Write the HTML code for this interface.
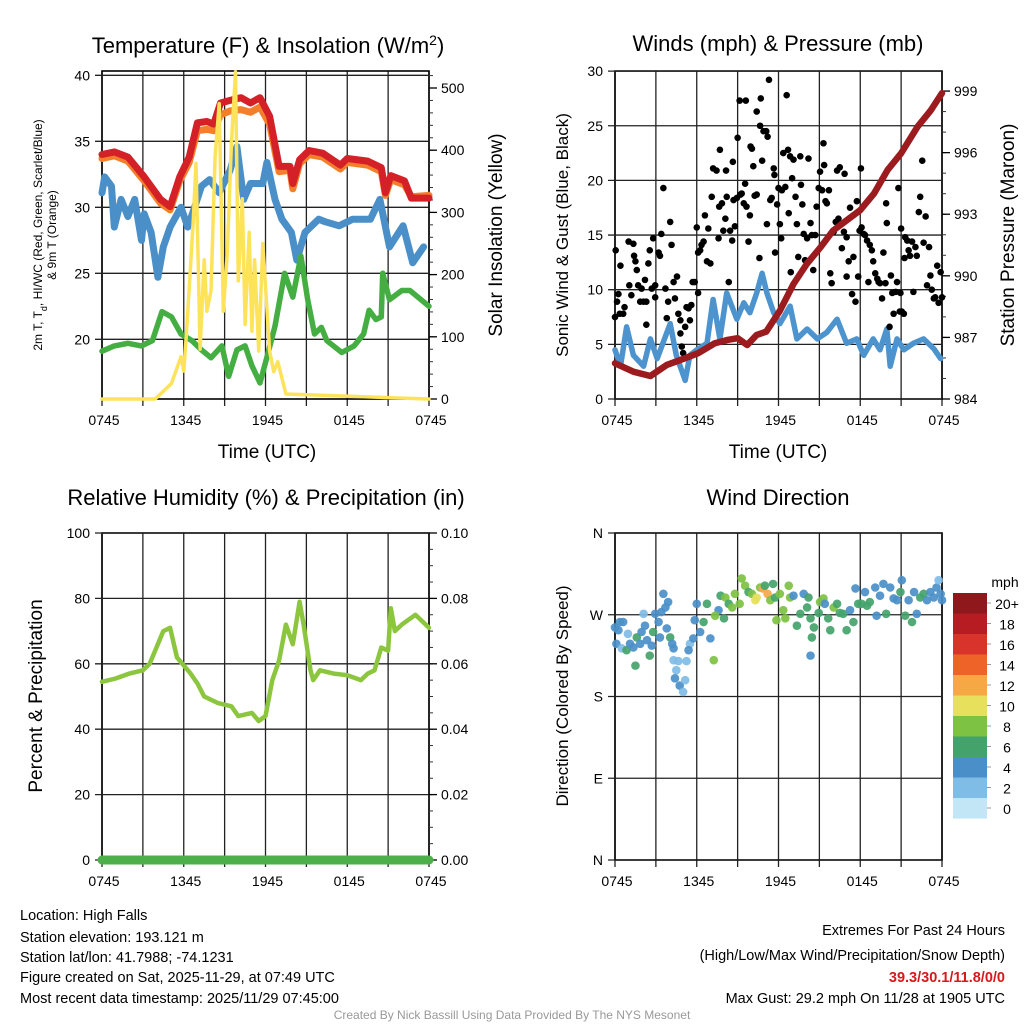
<!DOCTYPE html>
<html><head><meta charset="utf-8"><style>
html,body{margin:0;padding:0;background:#fff}
svg{display:block;font-family:"Liberation Sans",sans-serif}
</style></head><body>
<svg id="s" width="1024" height="1024" viewBox="0 0 1024 1024" xmlns="http://www.w3.org/2000/svg">
<g id="g1"></g>
<g id="g2"></g>
<g id="g3"></g>
<g id="g4"></g>
<g font-size="22" text-anchor="middle">
<text x="268" y="53">Temperature (F) &amp; Insolation (W/m<tspan baseline-shift="super" font-size="14">2</tspan>)</text>
<text x="778" y="51">Winds (mph) &amp; Pressure (mb)</text>
<text x="266" y="505">Relative Humidity (%) &amp; Precipitation (in)</text>
<text x="778" y="505">Wind Direction</text>
</g>
<g text-anchor="middle">
<text x="267" y="458" font-size="19">Time (UTC)</text>
<text x="778" y="458" font-size="19">Time (UTC)</text>
<text transform="translate(42,235) rotate(-90)" font-size="12">2m T, T<tspan baseline-shift="sub" font-size="9">d</tspan>, HI/WC (Red, Green, Scarlet/Blue)</text>
<text transform="translate(56,235) rotate(-90)" font-size="12">&amp; 9m T (Orange)</text>
<text transform="translate(502,235) rotate(-90)" font-size="19">Solar Insolation (Yellow)</text>
<text transform="translate(568,235) rotate(-90)" font-size="17">Sonic Wind &amp; Gust (Blue, Black)</text>
<text transform="translate(1014,235) rotate(-90)" font-size="19">Station Pressure (Maroon)</text>
<text transform="translate(42,696) rotate(-90)" font-size="19">Percent &amp; Precipitation</text>
<text transform="translate(568,696) rotate(-90)" font-size="17">Direction (Colored By Speed)</text>
</g>
<g font-size="14.5">
<text x="20" y="920">Location: High Falls</text>
<text x="20" y="942">Station elevation: 193.121 m</text>
<text x="20" y="962">Station lat/lon: 41.7988; -74.1231</text>
<text x="20" y="982">Figure created on Sat, 2025-11-29, at 07:49 UTC</text>
<text x="20" y="1003">Most recent data timestamp: 2025/11/29 07:45:00</text>
<text x="1005" y="935" text-anchor="end">Extremes For Past 24 Hours</text>
<text x="1005" y="960" text-anchor="end">(High/Low/Max Wind/Precipitation/Snow Depth)</text>
<text x="1005" y="982" text-anchor="end" fill="#d7191c" font-weight="bold">39.3/30.1/11.8/0/0</text>
<text x="1005" y="1003" text-anchor="end">Max Gust: 29.2 mph On 11/28 at 1905 UTC</text>
<text x="512" y="1019" text-anchor="middle" font-size="12" fill="#999">Created By Nick Bassill Using Data Provided By The NYS Mesonet</text>
</g>
</svg>
<script>
// ---- data ----
const xLabels=["0745","1345","1945","0145","0745"];
const redT=[0,0.9,1.9,3.1,4.3,5.0,5.7,6.4,7.0,7.7,8.2,8.7,9.4,10.2,10.9,11.6,12.3,13.0,13.8,14.0,14.5,15.2,16.2,17.5,18.0,19.5,20.5,20.8,21.2,22.2,22.7,24];
const redV=[34.0,34.2,33.8,32.3,30.6,30.05,32.3,33.8,36.4,36.5,36.3,37.9,38.1,38.3,37.9,38.3,36.9,33.1,33.1,31.8,33.6,34.3,34.1,33.2,33.7,33.5,33.0,31.1,32.4,32.0,30.7,30.7];
const orangeV=[33.7,33.9,33.5,32.0,30.3,29.8,32.0,33.4,35.8,35.9,35.8,37.0,37.3,37.4,37.2,37.6,36.3,32.7,32.8,31.4,33.3,34.0,33.8,32.9,33.4,33.2,32.7,30.9,32.1,31.7,30.8,30.9];
const blueT=[0,0.2,0.7,0.9,1.4,1.9,2.4,2.9,3.1,3.6,4.1,4.5,5.0,5.8,6.3,6.8,7.3,7.9,8.6,9.4,9.9,10.4,10.9,11.8,12.1,12.7,13.2,13.9,14.3,14.9,15.9,16.4,17.4,18.4,19.7,20.4,21.1,22.1,22.8,23.6];
const blueV=[31.1,32.3,31.6,28.5,30.6,29.3,30.6,27.5,29.5,28.1,24.7,27.0,28.5,30.0,28.5,30.0,31.6,32.1,31.1,32.8,34.6,30.6,31.8,31.8,33.4,30.6,29.1,28.1,26.0,28.1,29.1,28.9,28.6,29.1,29.1,30.6,27.0,28.6,25.8,27.0];
const greenT=[0,0.9,1.9,2.9,3.7,4.4,5.1,5.8,6.6,7.3,8.0,8.8,9.3,9.9,10.5,11.0,11.6,12.2,12.7,13.4,14.0,14.6,15.1,15.6,16.1,16.5,17.6,18.5,19.2,19.6,20.1,20.5,20.6,21.1,22.0,22.6,24];
const greenV=[19.1,19.5,19.7,19.5,19.9,22.1,21.7,20.4,19.9,19.2,18.6,19.5,17.2,19.2,19.5,18.0,16.7,19.0,21.0,25.0,23.2,26.3,23.0,20.4,20.9,19.9,19.0,19.5,20.4,22.2,21.5,21.7,25.0,23.0,23.7,23.7,22.5];
const solarT=[0,3.9,4.1,5.1,5.8,6.0,6.2,6.7,6.9,7.2,7.5,7.7,8.0,8.3,8.6,8.9,9.2,9.5,9.8,10.0,10.3,10.5,10.8,11.0,11.2,11.5,11.8,12.3,12.6,12.9,13.5,24];
const solarV=[0,0,4,25,68,45,106,288,379,80,224,141,174,390,475,141,234,411,526,190,322,120,268,109,224,77,250,77,44,60,8,0];
const presT=[0,1.35,2.6,3.8,5.1,6.1,7.3,8.2,9.0,9.7,10.4,11.1,12.1,13.1,14.1,15.1,16.0,17.0,18.0,19.0,20.0,21.0,22.2,23.2,24];
const presV=[985.74,985.33,985.12,985.66,985.98,986.23,986.71,986.87,986.96,986.63,987.12,987.28,988.3,989.6,990.6,991.4,992.2,992.7,993.2,994.0,995.15,995.97,997.26,998.08,998.9];
const windT=[0,0.4,0.85,1.35,2.1,2.6,3.1,4.05,4.5,5.15,5.5,6.0,6.75,7.2,7.7,8.2,8.95,9.45,9.9,10.4,10.8,11.15,11.65,12.1,12.85,13.35,14.1,14.85,15.55,16.3,17.0,17.75,18.25,18.95,19.45,19.95,20.2,20.7,21.2,21.9,22.65,23.4,23.9];
const windV=[4.5,3.0,6.6,4.0,3.0,5.5,3.7,6.9,4.0,1.7,4.0,4.5,5.1,9.1,5.5,9.7,7.3,8.8,7.9,9.7,11.5,9.7,7.9,6.9,8.5,5.5,6.4,5.5,6.1,7.3,5.1,5.5,4.0,5.5,4.5,6.4,3.0,5.5,4.5,5.1,5.5,4.6,3.7];
const gustT=[0,0.05,0.15,0.25,0.35,0.4,0.6,0.7,1.0,1.05,1.2,1.35,1.4,1.5,1.6,1.7,1.85,1.95,2.1,2.2,2.3,2.3,2.45,2.55,2.7,2.8,2.95,2.95,3.2,3.3,3.4,3.55,3.7,3.8,3.9,4.05,4.15,4.3,4.4,4.55,4.65,4.8,4.8,4.9,5.0,5.15,5.25,5.4,5.5,5.6,5.7,5.85,6.0,6.1,6.1,6.25,6.35,6.5,6.6,6.75,6.85,7.0,7.1,7.2,7.45,7.6,7.65,7.7,7.85,7.95,8.1,8.15,8.2,8.35,8.45,8.6,8.65,8.7,8.8,8.95,9.0,9.15,9.2,9.3,9.45,9.55,9.6,9.65,9.8,9.9,9.95,10.05,10.15,10.25,10.4,10.4,10.6,10.65,10.7,10.8,10.9,11.1,11.15,11.2,11.3,11.4,11.5,11.65,11.7,11.75,11.9,12.0,12.1,12.2,12.25,12.35,12.5,12.6,12.7,12.75,12.85,12.9,13.0,13.1,13.25,13.35,13.45,13.6,13.65,13.75,13.85,13.95,14.1,14.2,14.35,14.45,14.55,14.7,14.8,14.95,15.05,15.2,15.3,15.35,15.45,15.55,15.7,15.8,15.9,16.05,16.2,16.3,16.4,16.5,16.65,16.8,16.85,17.0,17.0,17.15,17.25,17.4,17.5,17.65,17.75,17.85,17.95,18.05,18.1,18.25,18.35,18.5,18.6,18.7,18.85,18.95,19.1,19.25,19.35,19.45,19.6,19.7,19.85,19.9,19.95,20.15,20.25,20.35,20.45,20.6,20.7,20.8,20.9,20.95,21.0,21.05,21.2,21.25,21.3,21.45,21.55,21.65,21.8,21.9,22.05,22.15,22.3,22.4,22.55,22.65,22.8,22.9,23.05,23.15,23.25,23.4,23.5,23.65,23.75,23.9,24.0];
const gustV=[7.5,13.6,8.9,9.6,7.8,12.2,7.8,8.4,14.4,10.4,9.5,14.2,13.1,12.6,11.8,10.4,8.9,10.1,8.9,10.9,8.9,6.8,12.4,13.6,10.1,14.7,9.3,10.4,13.4,13.1,15.1,19.3,10.1,7.4,8.9,16.2,14.1,10.7,9.2,11.2,7.8,7.2,6.0,4.8,4.2,6.6,8.4,8.3,7.2,8.6,10.7,10.7,15.7,9.7,13.4,13.6,14.1,14.4,16.8,12.6,15.6,12.4,18.5,21.1,20.9,14.7,17.6,22.8,17.9,15.4,16.5,20.9,18.5,10.7,15.4,14.5,21.7,18.2,15.8,18.4,23.9,27.3,18.7,18.8,17.9,19.7,27.3,17.6,14.4,16.8,23.1,22.9,21.3,18.6,18.7,26.3,12.9,25.0,27.5,21.8,24.5,24.5,16.0,24.0,29.2,18.2,18.4,21.1,20.5,13.4,17.8,19.3,16.0,14.7,19.1,22.5,19.4,27.8,22.8,17.0,22.2,11.6,20.2,21.9,18.5,16.0,13.0,22.2,19.6,17.8,15.1,12.7,14.7,22.0,16.1,15.0,11.8,15.0,17.6,19.3,20.8,19.1,23.4,21.4,18.1,17.9,19.1,11.5,10.6,15.3,16.2,20.9,16.5,21.2,13.8,15.3,20.6,11.2,14.8,12.6,17.5,9.6,13.0,8.9,18.1,11.2,15.4,21.1,15.7,15.1,15.0,14.5,10.7,14.1,13.6,12.6,11.5,11.0,10.7,10.6,9.2,13.4,10.6,17.9,16.1,6.6,11.3,9.7,7.8,9.8,10.7,19.3,8.0,9.7,15.6,8.0,7.8,12.9,14.8,14.5,13.6,13.1,14.4,9.8,13.9,13.1,17.1,18.5,21.8,14.3,16.7,10.4,13.9,11.3,10.0,9.2,9.3,12.2,8.8,11.6,9.3];
const rhT=[0,1,2,3,3.5,4.5,5,5.5,6.5,7,7.5,8.5,9.5,10,11,11.5,12,12.5,13,13.5,14,14.5,14.8,15.3,15.5,16,17,18,19,19.5,20,20.5,21,21.2,21.5,22,23,24];
const rhV=[54.5,55.5,57,58,60,70,71,62,57,54,50,48,47,44,45,42.5,44,55,61,72,66,79,72,58,55,58,57,56.5,55,57,58,65,64,77,70,72,75,71];
const precipT=[0,24];
const precipV=[0,0];
const dirT=[0,0.25,0.35,0.6,0.1,0.5,0.85,1.1,1.35,1.6,1.5,0.95,1.85,1.95,2.1,2.2,2.35,2.55,2.7,2.8,2.95,3.2,3.3,3.4,3.55,3.7,3.9,3.8,4.05,4.2,4.3,4.3,4.65,4.5,4.4,4.75,5.0,5.15,5.25,5.5,5.4,5.75,5.85,6.0,6.25,6.5,6.75,7.0,7.25,7.6,7.35,7.75,8.0,8.1,8.35,8.6,8.8,9.15,9.3,9.55,9.8,10.05,10.3,10.4,10.65,10.85,11.0,11.2,11.4,11.6,11.75,11.85,12.1,12.35,12.5,12.75,12.85,13.1,13.35,13.6,13.85,14.1,14.2,14.35,14.45,14.35,14.6,14.95,15.05,15.3,15.4,15.65,15.8,16.05,16.3,16.5,16.75,17.0,17.25,17.5,17.65,17.85,18.1,18.35,18.5,18.7,19.1,19.2,19.45,19.7,19.9,20.2,20.45,20.7,20.95,21.05,21.3,21.55,21.8,21.95,22.15,22.4,22.65,22.9,23.15,23.4,23.6,23.75,23.9,24.0];
const dirV=[256,253,262,262,238,233,231,238,234,245,214,249,238,251,271,258,242,225,236,251,271,262,245,273,293,278,284,255,245,238,233,220,219,209,200,192,185,198,219,238,231,244,264,282,251,262,282,244,220,275,269,291,266,289,282,278,293,282,310,302,295,293,286,289,300,299,302,293,286,304,289,264,293,275,266,302,289,291,258,271,293,278,289,266,245,225,256,272,284,288,282,266,253,278,282,272,271,253,275,262,299,282,282,295,280,284,300,269,291,304,271,300,288,286,295,308,269,286,262,295,271,289,293,286,295,289,300,308,293,286];
const dirSpd=[4,4,4,4,4,2,6,4,4,6,6,2,4,4,2,4,4,6,4,6,4,4,4,4,4,4,4,4,6,4,4,2,2,2,4,4,2,2,2,2,4,4,4,4,4,6,6,4,8,4,8,6,6,8,6,8,8,8,8,8,6,8,10,10,8,12,6,12,8,6,6,8,8,8,8,8,8,4,6,6,4,6,6,6,6,4,6,6,8,8,4,6,6,8,6,6,6,6,4,6,4,6,6,4,6,6,4,4,4,4,6,4,4,4,6,4,6,4,6,4,4,6,6,4,4,4,4,2,4,4];
const cbLabels=["20+","18","16","14","12","10","8","6","4","2","0"];
const cbColors=["#8e181c","#b71c22","#d9342b","#ee6428","#f6a845","#e6e05c","#7dc242","#44a36b","#4a8fc8","#7fbce6","#c3e6f7"];

// ---- drawing ----
const NS="http://www.w3.org/2000/svg";
function mk(parent,tag,attrs){const e=document.createElementNS(NS,tag);for(const k in attrs)e.setAttribute(k,attrs[k]);parent.appendChild(e);return e;}
function txt(parent,x,y,s,anchor,size){const e=mk(parent,"text",{x:x,y:y,"text-anchor":anchor,"font-size":size});e.textContent=s;return e;}
function xs(x0,x1){return t=>x0+(x1-x0)*t/24;}
function frame(g,x0,x1,top,bot,label){
  for(let i=0;i<=8;i++){const x=x0+(x1-x0)*i/8;
    const l=mk(g,"line",{x1:x,x2:x,y1:top,y2:bot+7,stroke:"#222","stroke-width":1.3});
    
    }
  for(let i=0;i<xLabels.length;i++){const t=txt(g,x0+(x1-x0)*i/4+2,bot+26,xLabels[i],"middle",14);
    
    }
  const r=mk(g,"rect",{x:x0,y:top,width:x1-x0,height:bot-top,fill:"none",stroke:"#000","stroke-width":1.6});
  
  
}
function leftAxis(g,x0,x1,vals,yf,labels,fmt){
  vals.forEach((v,i)=>{const y=yf(v);
    const l=mk(g,"line",{x1:x0-7,x2:x1,y1:y,y2:y,stroke:"#222","stroke-width":1.3});
    
    
    if(labels){const t=txt(g,x0-12,y+5,labels[i],"end",14);
      
      }});
}
function rightAxis(g,x1,vals,yf,labels,minor){
  minor.forEach(v=>{mk(g,"line",{x1:x1,x2:x1+4,y1:yf(v),y2:yf(v),stroke:"#333","stroke-width":1});});
  vals.forEach((v,i)=>{const y=yf(v);mk(g,"line",{x1:x1,x2:x1+8,y1:y,y2:y,stroke:"#000","stroke-width":1.3});
    const t=txt(g,x1+12,y+5,labels[i],"start",14);
    
    });
}
function line(g,T,V,xf,yf,color,w,name){
  const d=T.map((t,i)=>(i?"L":"M")+xf(t).toFixed(1)+","+yf(V[i]).toFixed(1)).join("");
  const p=mk(g,"path",{d:d,fill:"none",stroke:color,"stroke-width":w,"stroke-linejoin":"round","stroke-linecap":"round"});
  
  
}
// Panel 1
{const g=document.getElementById("g1");const x=xs(102,429);
 const yT=v=>339.3-(v-20)*13.2, yS=v=>399-v*0.622;
 frame(g,102,429,71,399);
 leftAxis(g,102,429,[20,25,30,35,40],yT,["20","25","30","35","40"]);
 const mn=[];for(let v=0;v<=520;v+=20)mn.push(v);
 rightAxis(g,429,[0,100,200,300,400,500],yS,["0","100","200","300","400","500"],mn);
 line(g,redT,orangeV,x,yT,"#f47f2a",7,"orange-9m-temp-line");
 line(g,redT,redV,x,yT,"#d42027",7,"red-2m-temp-line");
 line(g,blueT,blueV,x,yT,"#4a8fc8",7,"blue-windchill-line");
 line(g,greenT,greenV,x,yT,"#45ae43",5.5,"green-dewpoint-line");
 line(g,solarT,solarV,x,yS,"#fde35a",3.5,"yellow-solar-line");}
// Panel 2
{const g=document.getElementById("g2");const x=xs(615,942);
 const yW=v=>399-v*10.93, yP=v=>399-(v-984)*20.53;
 frame(g,615,942,71,399);
 leftAxis(g,615,942,[0,5,10,15,20,25,30],yW,["0","5","10","15","20","25","30"]);
 const mn=[];for(let v=984;v<=999.5;v+=1)mn.push(v);
 rightAxis(g,942,[984,987,990,993,996,999],yP,["984","987","990","993","996","999"],mn);
 line(g,windT,windV,x,yW,"#4d94cf",5.5,"blue-sonic-wind-line");
 gustT.forEach((t,i)=>{const c=mk(g,"circle",{cx:x(t),cy:yW(gustV[i]),r:3.3,fill:"#000"});
   
   });
 line(g,presT,presV,x,yP,"#9b1b1e",6.5,"maroon-pressure-line");}
// Panel 3
{const g=document.getElementById("g3");const x=xs(102,429);
 const yR=v=>860-v*3.27, yPr=v=>860-v*3270;
 frame(g,102,429,533,860);
 leftAxis(g,102,429,[0,20,40,60,80,100],yR,["0","20","40","60","80","100"]);
 const mn=[];for(let v=0;v<=0.1001;v+=0.005)mn.push(v);
 rightAxis(g,429,[0,0.02,0.04,0.06,0.08,0.1],yPr,["0.00","0.02","0.04","0.06","0.08","0.10"],mn);
 line(g,rhT,rhV,x,yR,"#8cc63f",4.5,"rh-line");
 line(g,precipT,precipV,x,yPr,"#4daf4a",9,"precip-line");}
// Panel 4
{const g=document.getElementById("g4");const x=xs(615,942);
 const yD=v=>860-v*327/360;
 frame(g,615,942,533,860);
 leftAxis(g,615,942,[0,90,180,270,360],yD,["N","E","S","W","N"]);
 dirT.forEach((t,i)=>{const c=mk(g,"circle",{cx:x(t),cy:yD(dirV[i]),r:4.3,fill:cbColors[10-dirSpd[i]/2],"fill-opacity":0.92});
   
   });
 const cb=mk(g,"g",{});
 
 
 cbColors.forEach((c,i)=>{const r=mk(cb,"rect",{x:953,y:593+i*20.5,width:34,height:20.6,fill:c});
   
   
   mk(cb,"line",{x1:987,x2:991,y1:603+i*20.5,y2:603+i*20.5,stroke:"#999"});
   const t=txt(cb,1007,609+i*20.5,cbLabels[i],"middle",14);
   
   });
 const u=txt(cb,1005,587,"mph","middle",14);
 
 }
</script>
</body></html>
